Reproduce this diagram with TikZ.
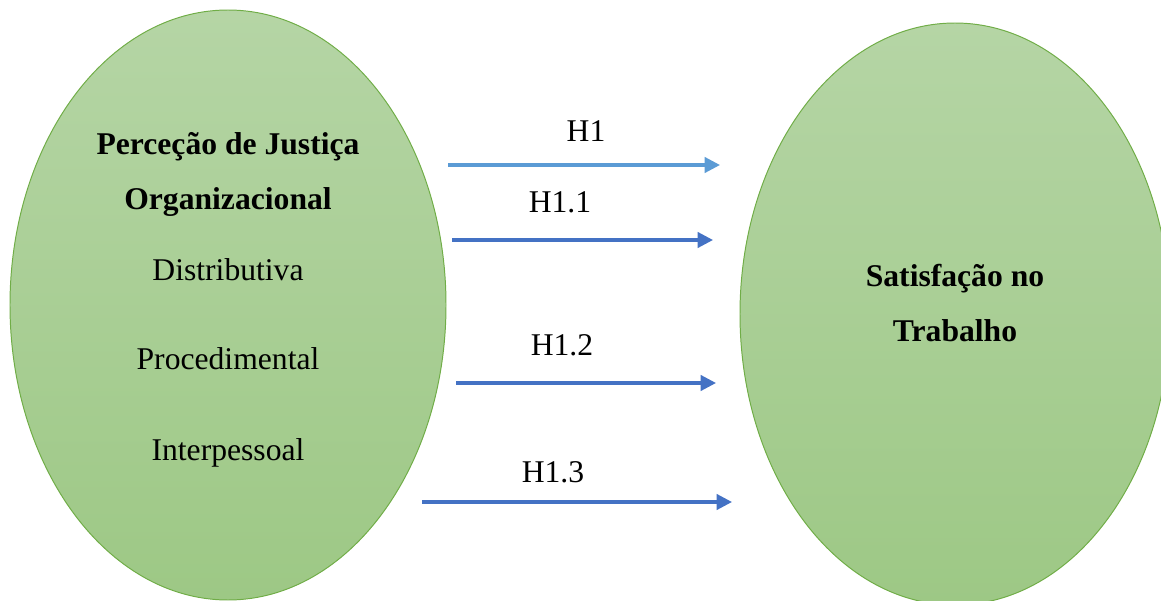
\documentclass[tikz,border=0pt]{standalone}
\usepackage{fontspec}
\setmainfont{Liberation Serif}
\usepackage{tkz-euclide}
\usetikzlibrary{arrows.meta}
\usetikzlibrary{shapes.geometric}
\usetikzlibrary{positioning}

\definecolor{elltop}{HTML}{B5D5A5}
\definecolor{ellbot}{HTML}{9DC885}
\definecolor{elldraw}{HTML}{70AD47}
\definecolor{arrlight}{HTML}{5B9BD5}
\definecolor{arrdark}{HTML}{4472C4}

\begin{document}
\begin{tikzpicture}
\tkzInit;
\useasboundingbox (0,0) rectangle (29.025,15);
\clip (0,0) rectangle (29.025,15);
\tikzset{elip/.style={
           ellipse,
           inner sep=0pt,
           top color=elltop,
           bottom color=ellbot,
           draw=elldraw,
           line width=0.7pt,
           },
         pil/.style={
           -{Triangle[length=11pt,width=11pt]},
           line width=2.2pt,
           },
         txt/.style={anchor=base,font=\fontsize{22.5}{27}\selectfont},
         btxt/.style={txt,font=\fontsize{22.5}{27}\selectfont\bfseries}
           }
%==========================================
\node[elip,minimum width=10.9cm,minimum height=14.75cm] (justica) at (5.7,7.375) {};
\node[elip,minimum width=10.75cm,minimum height=14.55cm] (satisfacao) at (23.875,7.15) {};
%==========================================
\node[btxt] (perc) at (5.7,11.125) {Perceção de Justiça};
\node[btxt] (org) at (5.7,9.75) {Organizacional};
\node[txt] (dist) at (5.7,7.975) {Distributiva};
\node[txt] (proc) at (5.7,5.75) {Procedimental};
\node[txt] (inter) at (5.7,3.5) {Interpessoal};
\node[btxt] (sat) at (23.875,7.825) {Satisfação no};
\node[btxt] (trab) at (23.875,6.45) {Trabalho};
%==========================================
\tkzDefPoint[](11.2,10.875){a};
\tkzDefPoint[](18.0,10.875){b};
\tkzDefPoint[](11.3,9.0){c};
\tkzDefPoint[](17.825,9.0){d};
\tkzDefPoint[](11.4,5.425){e};
\tkzDefPoint[](17.9,5.425){f};
\tkzDefPoint[](10.55,2.45){g};
\tkzDefPoint[](18.3,2.45){h};
\draw[pil,color=arrlight] (a) -- (b);
\draw[pil,color=arrdark] (c) -- (d);
\draw[pil,color=arrdark] (e) -- (f);
\draw[pil,color=arrdark] (g) -- (h);
\node[txt] (hip) at (14.65,11.45) {H1};
\node[txt] (hipa) at (14.0,9.675) {H1.1};
\node[txt] (hipb) at (14.05,6.1) {H1.2};
\node[txt] (hipc) at (13.825,2.95) {H1.3};
\end{tikzpicture}
\end{document}
